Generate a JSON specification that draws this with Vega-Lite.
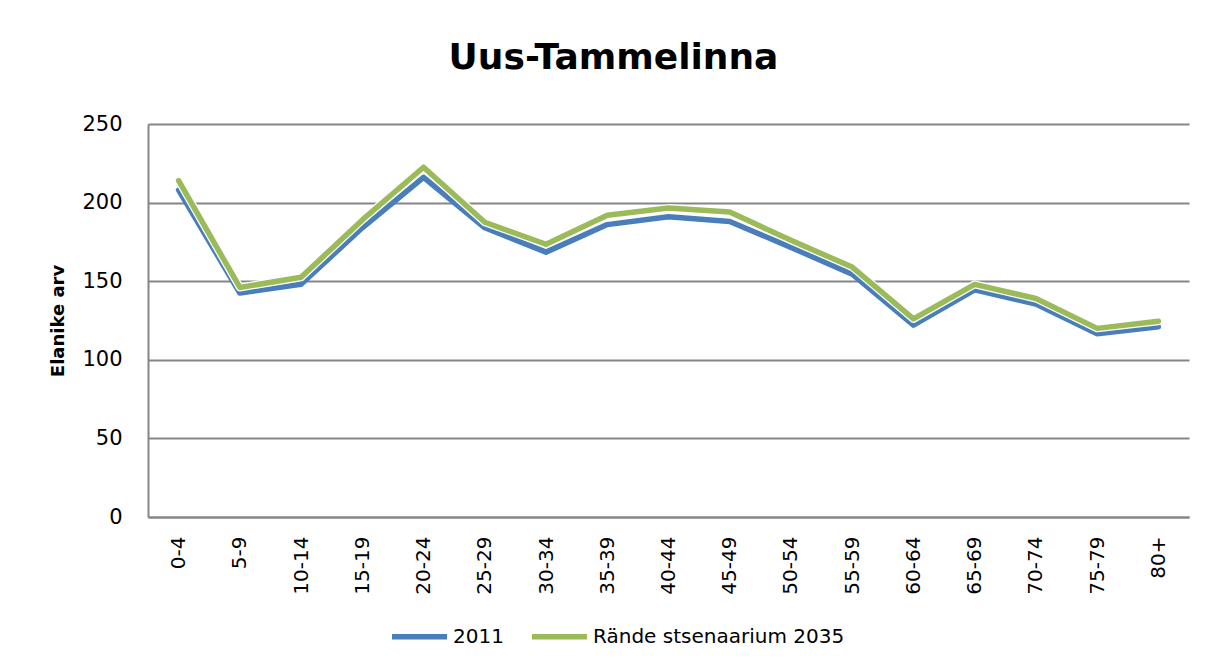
{
  "$schema": "https://vega.github.io/schema/vega-lite/v6.json",
  "width": 1041,
  "height": 393,
  "autosize": {"type": "none"},
  "padding": {"left": 148, "top": 124, "right": 25, "bottom": 150},
  "background": "white",
  "title": {
    "text": "Uus-Tammelinna",
    "font": "DejaVu Sans",
    "fontSize": 36,
    "fontWeight": "bold",
    "color": "black",
    "anchor": "middle",
    "frame": "group",
    "baseline": "alphabetic",
    "offset": 8,
    "dx": -55
  },
  "data": {
    "values": [
      {"age": "0-4", "series": "2011", "value": 208},
      {"age": "5-9", "series": "2011", "value": 142.5},
      {"age": "10-14", "series": "2011", "value": 148},
      {"age": "15-19", "series": "2011", "value": 184},
      {"age": "20-24", "series": "2011", "value": 216},
      {"age": "25-29", "series": "2011", "value": 184},
      {"age": "30-34", "series": "2011", "value": 168.5},
      {"age": "35-39", "series": "2011", "value": 186},
      {"age": "40-44", "series": "2011", "value": 191},
      {"age": "45-49", "series": "2011", "value": 188},
      {"age": "50-54", "series": "2011", "value": 171.5},
      {"age": "55-59", "series": "2011", "value": 154.5},
      {"age": "60-64", "series": "2011", "value": 122},
      {"age": "65-69", "series": "2011", "value": 144.5},
      {"age": "70-74", "series": "2011", "value": 135.5},
      {"age": "75-79", "series": "2011", "value": 116.5},
      {"age": "80+", "series": "2011", "value": 121},
      {"age": "0-4", "series": "Rände stsenaarium 2035", "value": 214},
      {"age": "5-9", "series": "Rände stsenaarium 2035", "value": 146},
      {"age": "10-14", "series": "Rände stsenaarium 2035", "value": 152.5},
      {"age": "15-19", "series": "Rände stsenaarium 2035", "value": 189},
      {"age": "20-24", "series": "Rände stsenaarium 2035", "value": 222.5},
      {"age": "25-29", "series": "Rände stsenaarium 2035", "value": 187.5},
      {"age": "30-34", "series": "Rände stsenaarium 2035", "value": 173.5},
      {"age": "35-39", "series": "Rände stsenaarium 2035", "value": 192},
      {"age": "40-44", "series": "Rände stsenaarium 2035", "value": 196.5},
      {"age": "45-49", "series": "Rände stsenaarium 2035", "value": 194},
      {"age": "50-54", "series": "Rände stsenaarium 2035", "value": 176},
      {"age": "55-59", "series": "Rände stsenaarium 2035", "value": 159},
      {"age": "60-64", "series": "Rände stsenaarium 2035", "value": 126},
      {"age": "65-69", "series": "Rände stsenaarium 2035", "value": 148},
      {"age": "70-74", "series": "Rände stsenaarium 2035", "value": 139},
      {"age": "75-79", "series": "Rände stsenaarium 2035", "value": 120},
      {"age": "80+", "series": "Rände stsenaarium 2035", "value": 124.5}
    ]
  },
  "encoding": {
    "x": {
      "field": "age",
      "type": "ordinal",
      "sort": null,
      "scale": {"type": "point", "padding": 0.5},
      "axis": {
        "title": null,
        "labelAngle": -90,
        "labelFont": "DejaVu Sans",
        "labelFontSize": 20,
        "labelColor": "black",
        "labelPadding": 19,
        "ticks": false,
        "domainColor": "#868686",
        "domainWidth": 2,
        "grid": false
      }
    },
    "y": {
      "field": "value",
      "type": "quantitative",
      "scale": {"domain": [0, 250], "nice": false},
      "axis": {
        "title": "Elanike arv",
        "titleFont": "DejaVu Sans",
        "titleFontSize": 18,
        "titleFontWeight": "bold",
        "titleColor": "black",
        "titlePadding": 14,
        "values": [0, 50, 100, 150, 200, 250],
        "labelFont": "DejaVu Sans",
        "labelFontSize": 21,
        "labelColor": "black",
        "labelPadding": 26,
        "ticks": false,
        "domainColor": "#868686",
        "domainWidth": 2,
        "grid": true,
        "gridColor": "#868686",
        "gridWidth": 2
      }
    }
  },
  "layer": [
    {
      "mark": {"type": "line", "strokeWidth": 5.5, "strokeCap": "round", "strokeJoin": "round"},
      "encoding": {
        "color": {
          "field": "series",
          "type": "nominal",
          "scale": {"domain": ["2011", "Rände stsenaarium 2035"], "range": ["#4A7EBB", "#9BBB59"]},
          "legend": {
            "title": null,
            "orient": "none",
            "direction": "horizontal",
            "legendX": 241,
            "legendY": 482,
            "symbolType": "stroke",
            "symbolSize": 3025,
            "symbolStrokeWidth": 5.5,
            "labelFont": "DejaVu Sans",
            "labelFontSize": 20,
            "labelColor": "black",
            "labelOffset": 3,
            "labelLimit": 400,
            "columnPadding": 17
          }
        },
        "order": {"field": "series"}
      }
    },
    {
      "transform": [{"filter": "datum.series === 'Rände stsenaarium 2035'"}],
      "mark": {"type": "line", "strokeWidth": 8, "strokeCap": "round", "strokeJoin": "round", "color": "white"},
      "encoding": {}
    },
    {
      "transform": [{"filter": "datum.series === 'Rände stsenaarium 2035'"}],
      "mark": {"type": "line", "strokeWidth": 5.5, "strokeCap": "round", "strokeJoin": "round", "color": "#9BBB59"},
      "encoding": {}
    }
  ],
  "config": {"view": {"stroke": null}}
}
